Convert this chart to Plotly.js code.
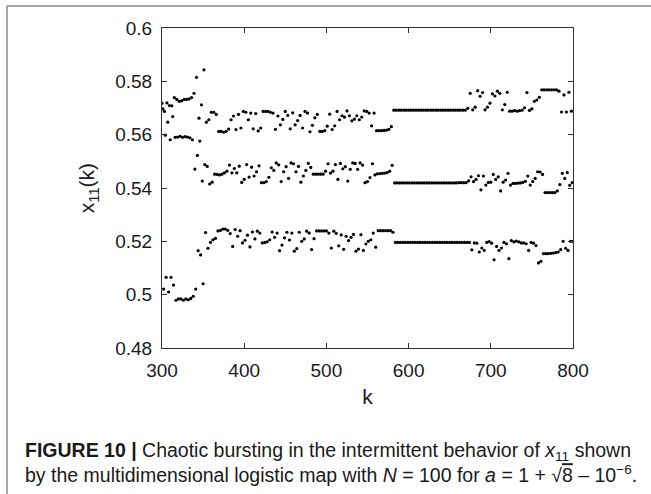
<!DOCTYPE html>
<html>
<head>
<meta charset="utf-8">
<script src="https://cdn.plot.ly/plotly-3.0.1.min.js"></script>
<style>html,body{margin:0;padding:0;background:#fff;}#chart{width:651px;height:494px;}</style>
</head>
<body>
<div id="chart"></div>
<script>
// x11(k) values; the orbit visits three bands, one point every 3rd k
const x11Upper = [
0.5718,0.5687,0.5719,0.5709,0.5708,0.5739,0.5732,0.5725,0.5727,0.5732,0.5732,0.5734,0.5739,0.5755,0.5815,0.5662,0.5712,0.5843,0.5647,0.5656,
0.5684,0.5684,0.5676,0.5612,0.5612,0.5609,0.5612,0.5621,0.5656,0.5670,0.5619,0.5676,0.5625,0.5687,0.5684,0.5656,0.5681,0.5622,0.5679,0.5614,
0.5625,0.5687,
0.5687,0.5687,0.5684,0.5681,0.5620,0.5670,0.5637,0.5657,0.5687,0.5672,0.5622,0.5682,0.5637,0.5653,0.5672,0.5625,0.5687,0.5681,0.5611,0.5635,
0.5663,0.5676,
0.5612,0.5612,0.5615,
0.5632,0.5677,0.5619,0.5633,0.5687,0.5656,0.5671,0.5666,0.5689,0.5671,0.5652,0.5658,0.5671,0.5656,0.5666,0.5689,0.5687,0.5681,0.5633,0.5681,
0.5615,0.5615,0.5615,0.5616,0.5617,0.5620,0.5630,
0.5692,0.5692,0.5692,0.5692,0.5692,0.5692,0.5692,0.5692,0.5692,0.5692,0.5692,0.5692,0.5692,0.5692,0.5692,
0.5692,0.5692,0.5692,0.5692,0.5692,0.5692,0.5692,0.5692,0.5692,0.5692,0.5692,0.5692,0.5692,0.5692,0.5692,
0.5699,0.5755,0.5693,0.5703,0.5765,0.5744,0.5758,0.5693,0.5703,0.5718,0.5753,0.5745,0.5763,0.5755,0.5693,0.5713,0.5759,
0.5688,0.5688,0.5690,0.5688,0.5690,0.5692,
0.5701,0.5758,0.5691,0.5697,0.5725,0.5730,0.5740,
0.5768,0.5768,0.5768,0.5768,0.5768,0.5768,0.5768,
0.5763,0.5685,0.5749,0.5685,0.5759,0.5688
];
const x11Middle = [
0.5697,0.5598,0.5647,0.5581,0.5668,0.5590,0.5591,0.5594,0.5590,0.5593,0.5591,0.5588,0.5581,0.5471,0.5522,0.5576,0.5426,0.5488,0.5481,0.5415,
0.5422,0.5452,0.5451,0.5449,0.5452,0.5457,0.5463,0.5486,0.5457,0.5473,0.5457,0.5482,0.5421,0.5432,0.5488,0.5441,0.5478,0.5445,0.5461,0.5483,
0.5420,
0.5420,0.5424,0.5440,0.5476,0.5466,0.5494,0.5487,0.5424,0.5461,0.5480,0.5436,0.5494,0.5491,0.5461,0.5481,0.5422,0.5445,0.5466,0.5492,0.5477,
0.5452,0.5452,0.5452,0.5452,0.5452,
0.5463,0.5491,0.5456,0.5463,0.5488,0.5432,0.5492,0.5472,0.5480,0.5426,0.5470,0.5494,0.5492,0.5470,0.5494,
0.5486,0.5420,0.5424,0.5439,0.5491,0.5449,
0.5453,0.5454,0.5455,0.5456,0.5458,
0.5463,0.5485,
0.5419,0.5419,0.5419,0.5419,0.5419,0.5419,0.5419,0.5419,0.5419,0.5419,0.5419,0.5419,0.5419,0.5419,0.5419,
0.5419,0.5419,0.5419,0.5419,0.5419,0.5419,0.5419,0.5419,0.5419,0.5419,0.5419,0.5420,0.5420,0.5420,0.5420,
0.5427,0.5442,0.5424,0.5432,0.5446,0.5393,0.5445,0.5411,0.5421,0.5422,0.5451,0.5432,0.5442,0.5389,0.5422,0.5430,0.5455,0.5411,
0.5417,0.5417,0.5418,0.5419,0.5421,0.5425,
0.5445,0.5411,0.5424,0.5436,0.5461,0.5460,0.5451,
0.5383,0.5383,0.5383,0.5383,0.5383,0.5389,
0.5413,0.5455,0.5436,0.5458,0.5410,0.5420
];
const x11Lower = [
0.5021,0.5065,0.5010,0.5065,0.5036,0.4979,0.4984,0.4984,0.4979,0.4984,0.4981,0.4986,0.4994,0.5021,0.5165,0.5149,0.5041,0.5233,0.5174,0.5196,
0.5206,0.5211,0.5239,0.5241,0.5246,0.5246,0.5241,0.5229,0.5181,0.5244,0.5219,0.5240,0.5194,0.5204,0.5223,0.5179,0.5235,0.5209,0.5238,0.5231,
0.5194,
0.5196,0.5198,0.5206,0.5235,0.5215,0.5231,0.5165,0.5186,0.5213,0.5234,0.5205,0.5231,0.5163,0.5173,0.5234,0.5200,0.5209,0.5238,0.5231,0.5169,
0.5210,
0.5239,0.5239,0.5239,0.5239,0.5239,
0.5231,0.5175,0.5238,0.5230,0.5183,0.5224,0.5170,0.5219,0.5203,0.5215,0.5226,0.5163,0.5171,
0.5225,0.5166,0.5190,0.5200,0.5206,0.5231,0.5178,
0.5240,0.5240,0.5240,0.5240,0.5240,0.5240,
0.5234,
0.5196,0.5196,0.5196,0.5196,0.5196,0.5196,0.5196,0.5196,0.5196,0.5196,0.5196,0.5196,0.5196,0.5196,0.5196,
0.5196,0.5196,0.5196,0.5196,0.5196,0.5196,0.5196,0.5196,0.5196,0.5196,0.5196,0.5196,0.5196,0.5196,0.5196,
0.5196,
0.5168,0.5194,0.5193,0.5160,0.5175,0.5166,0.5196,0.5199,0.5193,0.5131,0.5181,0.5166,0.5175,0.5196,0.5191,0.5135,0.5203,0.5198,0.5201,0.5198,
0.5194,0.5194,0.5191,0.5166,0.5196,0.5193,0.5184,0.5119,0.5125,
0.5154,0.5154,0.5154,0.5155,0.5156,0.5158,0.5160,
0.5169,0.5200,0.5174,0.5166,0.5200,0.5200
];
const kFirst = [300, 301, 302];   // first k of each band, step 3
const xTickVals = [300, 400, 500, 600, 700, 800];
const yTickVals = [0.48, 0.5, 0.52, 0.54, 0.56, 0.58, 0.6];
const yTickText = ['0.48', '0.5', '0.52', '0.54', '0.56', '0.58', '0.6'];

function kFor(vals, start) { return vals.map((v, i) => start + 3 * i); }

const bands = [x11Upper, x11Middle, x11Lower];
const traces = bands.map((vals, b) => ({
  type: 'scatter', mode: 'markers',
  x: kFor(vals, kFirst[b]), y: vals,
  marker: {color: '#000', size: 3.2},
  showlegend: false, hoverinfo: 'x+y'
}));

// plot area in pixels: x 162..573, y 28..348
const W = 651, H = 494, L = 162, R = 78, T = 28, B = 146;
const pw = W - L - R, ph = H - T - B;
const px = v => (v - L) / pw;
const py = v => (H - B - v) / ph;

const FAM = 'Liberation Sans, Arial, sans-serif';
const mkTickFont = () => ({family: FAM, size: 19, color: '#1a1a1a'});
const mkTitleFont = () => ({family: FAM, size: 21, color: '#1a1a1a'});
const mkCapFont = () => ({family: FAM, size: 19.5, color: '#1a1a1a'});

const layout = {
  width: W, height: H,
  margin: {l: L, r: R, t: T, b: B, pad: 0},
  paper_bgcolor: '#fff', plot_bgcolor: '#fff',
  font: {family: FAM, size: 19, color: '#1a1a1a'},
  xaxis: {
    range: [300, 800], tickvals: xTickVals, ticktext: xTickVals.map(String),
    ticks: 'inside', ticklen: 5, tickcolor: '#333', tickwidth: 1,
    showline: true, linecolor: '#333', linewidth: 1, mirror: 'ticks',
    showgrid: false, zeroline: false, tickfont: mkTickFont(), ticklabelstandoff: 5,
    title: {text: 'k', font: mkTitleFont(), standoff: 9}
  },
  yaxis: {
    range: [0.48, 0.6], tickvals: yTickVals, ticktext: yTickText,
    ticks: 'inside', ticklen: 5, tickcolor: '#333', tickwidth: 1,
    showline: true, linecolor: '#333', linewidth: 1, mirror: 'ticks',
    showgrid: false, zeroline: false, tickfont: mkTickFont(), ticklabelstandoff: 5,
    title: {text: 'x<sub>11</sub>(k)', font: mkTitleFont(), standoff: 14}
  },
  shapes: [
    {type: 'line', xref: 'paper', yref: 'paper', x0: px(7), x1: px(651), y0: py(6), y1: py(6), line: {color: '#8a8a8a', width: 1.5}},
    {type: 'line', xref: 'paper', yref: 'paper', x0: px(7), x1: px(7), y0: py(6), y1: py(494), line: {color: '#8a8a8a', width: 1.5}}
  ],
  annotations: [
    {xref: 'paper', yref: 'paper', x: px(23), y: py(451), xanchor: 'left', yanchor: 'middle', showarrow: false, font: mkCapFont(),
     text: '<b>FIGURE 10 |</b> Chaotic bursting in the intermittent behavior of <i>x</i><sub>11</sub> shown'},
    {xref: 'paper', yref: 'paper', x: px(23), y: py(474), xanchor: 'left', yanchor: 'middle', showarrow: false, font: mkCapFont(),
     text: 'by the multidimensional logistic map with <i>N</i> = 100 for <i>a</i> = 1 + √<span style="text-decoration:overline">8</span> – 10<sup>−6</sup>.'}
  ]
};

Plotly.newPlot('chart', traces, layout, {staticPlot: true, displayModeBar: false});
</script>
</body>
</html>
